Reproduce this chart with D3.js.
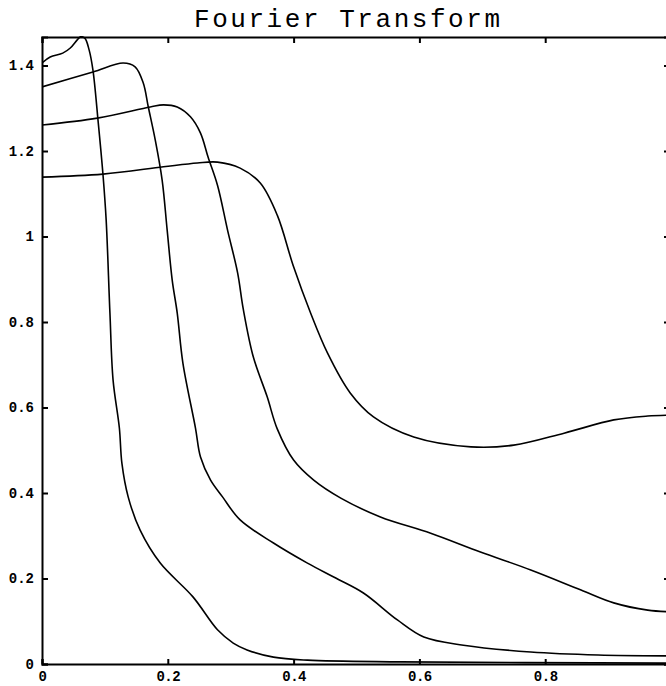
<!DOCTYPE html>
<html>
<head>
<meta charset="utf-8">
<script src="https://cdn.jsdelivr.net/npm/d3@7"></script>
<style>
  body { margin: 0; background: #fff; }
  svg { display: block; }
</style>
</head>
<body>
<svg class="ftsvg"></svg>
<script>
// values
const curveA_x = [0, 0.013, 0.033, 0.045, 0.056, 0.061, 0.068, 0.075, 0.081, 0.089, 0.097, 0.102, 0.108, 0.113, 0.123, 0.127, 0.137, 0.156, 0.188, 0.240, 0.279, 0.304, 0.326, 0.368, 0.422, 0.570, 1.0];
const curveA_y = [1.406, 1.420, 1.429, 1.441, 1.460, 1.467, 1.464, 1.436, 1.389, 1.273, 1.144, 1.039, 0.821, 0.664, 0.552, 0.470, 0.391, 0.313, 0.236, 0.157, 0.080, 0.049, 0.033, 0.016, 0.009, 0.005, 0.002];

const curveB_x = [0, 0.081, 0.129, 0.148, 0.161, 0.169, 0.180, 0.191, 0.199, 0.207, 0.215, 0.224, 0.244, 0.252, 0.268, 0.287, 0.315, 0.368, 0.422, 0.467, 0.511, 0.565, 0.607, 0.670, 0.777, 0.884, 1.0];
const curveB_y = [1.350, 1.385, 1.406, 1.397, 1.359, 1.303, 1.226, 1.132, 1.015, 0.898, 0.821, 0.704, 0.552, 0.484, 0.430, 0.391, 0.337, 0.283, 0.236, 0.201, 0.166, 0.103, 0.063, 0.044, 0.028, 0.021, 0.019];

const curveC_x = [0, 0.088, 0.172, 0.193, 0.215, 0.236, 0.252, 0.264, 0.279, 0.295, 0.311, 0.320, 0.336, 0.358, 0.374, 0.400, 0.432, 0.475, 0.538, 0.618, 0.697, 0.777, 0.857, 0.909, 0.963, 1.0];
const curveC_y = [1.261, 1.277, 1.303, 1.308, 1.303, 1.280, 1.242, 1.186, 1.120, 1.015, 0.915, 0.830, 0.718, 0.625, 0.550, 0.477, 0.430, 0.388, 0.344, 0.306, 0.262, 0.220, 0.173, 0.143, 0.126, 0.122];

const curveD_x = [0, 0.097, 0.193, 0.247, 0.279, 0.315, 0.347, 0.374, 0.400, 0.427, 0.454, 0.490, 0.527, 0.591, 0.682, 0.750, 0.830, 0.909, 0.963, 1.0];
const curveD_y = [1.139, 1.146, 1.163, 1.172, 1.174, 1.160, 1.125, 1.050, 0.929, 0.821, 0.727, 0.634, 0.578, 0.531, 0.508, 0.512, 0.540, 0.571, 0.580, 0.582];

const xTicks = [0, 0.2, 0.4, 0.6, 0.8, 1];
const xTickLabels = ['0', '0.2', '0.4', '0.6', '0.8', ''];
const yTicks = [0, 0.2, 0.4, 0.6, 0.8, 1, 1.2, 1.4];
const yTickLabels = ['0', '0.2', '0.4', '0.6', '0.8', '1', '1.2', '1.4'];

const dims = { width: 666, height: 686 };
const plot = { left: 42, right: 671, top: 37, bottom: 664 };

let svg = d3.select('.ftsvg')
  .attr('width', dims.width)
  .attr('height', dims.height);

let x = d3.scaleLinear().domain([0, 1]).range([plot.left, plot.right]);
let y = d3.scaleLinear().domain([0, 1.4667]).range([plot.bottom, plot.top]);

svg.append('defs').append('clipPath')
  .attr('id', 'plotclip')
  .append('rect')
  .attr('x', plot.left)
  .attr('y', plot.top - 1)
  .attr('width', plot.right - plot.left)
  .attr('height', plot.bottom - plot.top + 1);

// title
svg.append('text')
  .attr('x', 347)
  .attr('y', 27)
  .attr('text-anchor', 'middle')
  .attr('textLength', 306)
  .attr('lengthAdjust', 'spacing')
  .style('font-family', '"Liberation Mono", monospace')
  .style('font-size', '26px')
  .attr('fill', '#000')
  .text('Fourier Transform');

const tickFmtX = (d, i) => xTickLabels[i];
const tickFmtY = (d, i) => yTickLabels[i];

// bottom axis, ticks inward
let xAxis = svg.append('g')
  .attr('transform', `translate(0, ${plot.bottom})`)
  .call(d3.axisBottom(x).tickValues(xTicks).tickFormat(tickFmtX).tickSize(-5).tickPadding(7));

// top border
let xTop = svg.append('g')
  .attr('transform', `translate(0, ${plot.top})`)
  .call(d3.axisTop(x).tickValues(xTicks).tickFormat('').tickSize(-6));

// left axis
let yAxis = svg.append('g')
  .attr('transform', `translate(${plot.left}, 0)`)
  .call(d3.axisLeft(y).tickValues(yTicks).tickFormat(tickFmtY).tickSize(-6).tickPadding(8));

// right border (mostly off the page)
let yRight = svg.append('g')
  .attr('transform', `translate(${plot.right}, 0)`)
  .call(d3.axisRight(y).tickValues(yTicks).tickFormat('').tickSize(-7));

[xAxis, xTop, yAxis, yRight].forEach(g => {
  g.select('.domain').attr('stroke', '#000').attr('stroke-width', 2);
  g.selectAll('.tick line').attr('stroke', '#000').attr('stroke-width', 2);
  g.selectAll('.tick text')
    .attr('fill', '#000')
    .style('font-family', '"Liberation Mono", monospace')
    .style('font-size', '14px')
    .style('font-weight', 'bold');
});
xAxis.selectAll('.tick text').style('letter-spacing', '-0.5px');

// curves
const series = [
  { xs: curveA_x, ys: curveA_y },
  { xs: curveB_x, ys: curveB_y },
  { xs: curveC_x, ys: curveC_y },
  { xs: curveD_x, ys: curveD_y }
];

let line = d3.line()
  .x(d => x(d[0]))
  .y(d => y(d[1]))
  .curve(d3.curveCatmullRom.alpha(0.5));

svg.append('g')
  .attr('clip-path', 'url(#plotclip)')
  .selectAll('path')
  .data(series)
  .enter()
  .append('path')
  .attr('fill', 'none')
  .attr('stroke', '#000')
  .attr('stroke-width', 1.6)
  .attr('d', s => line(s.xs.map((v, i) => [v, s.ys[i]])));
</script>
</body>
</html>
